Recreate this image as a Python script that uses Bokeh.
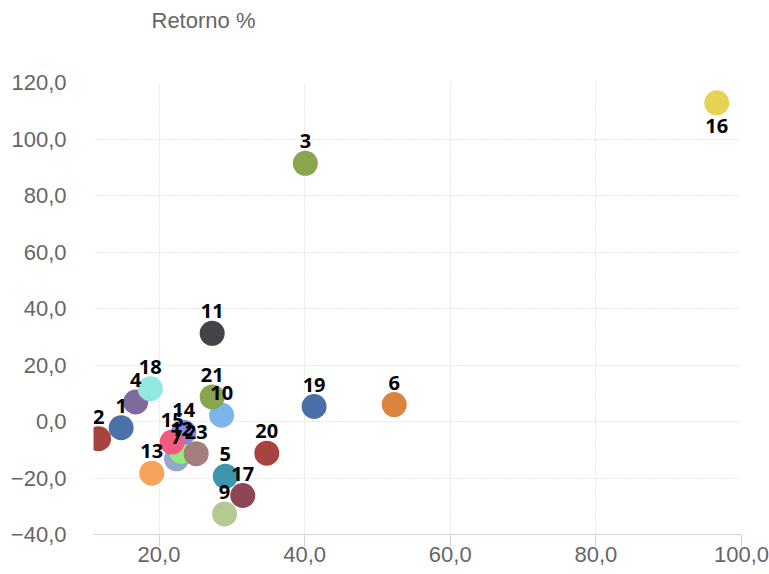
from bokeh.plotting import figure
from bokeh.models import ColumnDataSource, Range1d, FixedTicker, CustomJSTickFormatter, Title
from bokeh.core.properties import value
from bokeh.embed import file_html
from bokeh.resources import INLINE

# ---- data ----
labels = ["1", "2", "3", "4", "5", "6", "7", "9", "10", "11", "12",
          "13", "14", "15", "16", "17", "18", "19", "20", "21", "23"]
risk = [14.8, 11.7, 40.1, 16.8, 29.1, 52.3, 22.4, 29.0, 28.6, 27.3, 23.1,
        19.0, 23.4, 21.8, 96.6, 31.5, 18.8, 41.3, 34.8, 27.3, 25.1]
retorno = [-2.2, -6.1, 91.4, 6.9, -19.4, 6.0, -13.2, -32.7, 2.2, 31.2, -10.5,
           -18.3, -3.8, -7.3, 112.8, -26.2, 11.6, 5.3, -11.2, 8.7, -11.4]
colors = ["#4a72a8", "#a8443f", "#89a54e", "#80699b", "#3d96ae", "#db843d",
          "#92a8cd", "#b5ca92", "#7cb5ec", "#434348", "#90ed7d",
          "#f7a35c", "#8085e9", "#f15c80", "#e4d354", "#8d4653",
          "#91e8e1", "#4a6fa8", "#a8443f", "#89a54e", "#a47d7c"]
x_ticks = [20, 40, 60, 80, 100]
y_ticks = [-40, -20, 0, 20, 40, 60, 80, 100, 120]
y_title = "Retorno %"

# label above the point, or below it when the point is at the top edge
label_offset = [23 if v > 110 else -22 for v in retorno]

src = ColumnDataSource(dict(x=risk, y=retorno, label=labels, color=colors, off=label_offset))

p = figure(width=769, height=574, output_backend="svg", toolbar_location=None,
           x_range=Range1d(11, 100), y_range=Range1d(-40, 120),
           min_border_left=93, min_border_right=28, min_border_top=82, min_border_bottom=40)

p.outline_line_color = None
p.background_fill_color = "white"

fmt = CustomJSTickFormatter(code="return tick.toFixed(1).replace('.', ',').replace('-', '\u2212');")

xa = p.xaxis[0]
xa.ticker = FixedTicker(ticks=x_ticks)
xa.formatter = fmt
xa.axis_line_color = "#ccd6eb"
xa.major_tick_line_color = "#ccd6eb"
xa.major_tick_out = 12
xa.major_tick_in = 0
xa.minor_tick_line_color = None
xa.major_label_standoff = 0
xa.major_label_text_font = "Liberation Sans"
xa.major_label_text_font_size = "22px"
xa.major_label_text_color = "#666666"

ya = p.yaxis[0]
ya.ticker = FixedTicker(ticks=y_ticks)
ya.formatter = fmt
ya.axis_line_color = None
ya.major_tick_line_color = None
ya.minor_tick_line_color = None
ya.major_tick_out = 0
ya.major_tick_in = 0
ya.major_label_standoff = 27
ya.major_label_text_font = "Liberation Sans"
ya.major_label_text_font_size = "22px"
ya.major_label_text_color = "#666666"

for g in (p.xgrid[0], p.ygrid[0]):
    g.grid_line_color = "#cfcfcf"
    g.grid_line_dash = "1 2"
    g.grid_line_width = 1
p.xgrid[0].ticker = FixedTicker(ticks=x_ticks)
p.ygrid[0].ticker = FixedTicker(ticks=y_ticks)

p.scatter("x", "y", source=src, size=25, fill_color="color", line_color=None)

p.text("x", "y", text="label", source=src, y_offset="off",
       text_align="center", text_baseline="middle",
       text_font=value("Open Sans"), text_font_style="bold",
       text_font_size="20px", text_color="#000000")

# axis title; two blank trailing lines lift it away from the plot area
title = Title(text=y_title + "\n \n ", align="left", offset=58, standoff=0,
              text_font="Liberation Sans", text_font_size="22px",
              text_font_style="normal", text_color="#666666")
p.add_layout(title, "above")

open("out.html", "w").write(file_html(p, INLINE))
